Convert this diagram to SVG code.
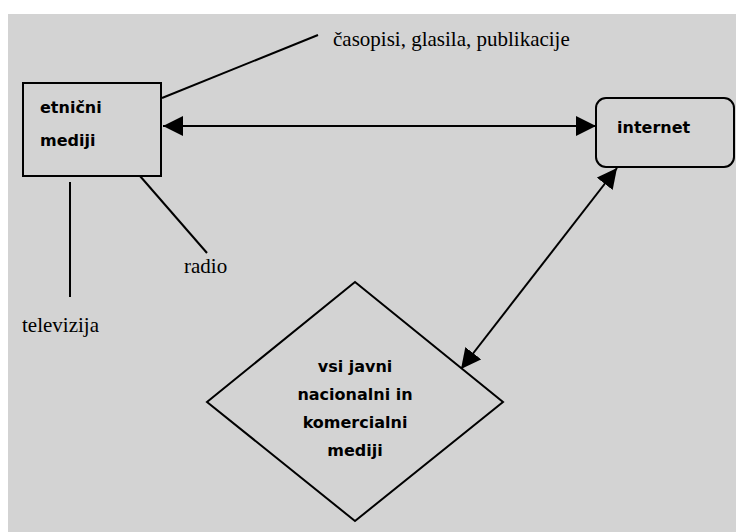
<svg xmlns="http://www.w3.org/2000/svg" width="736" height="532" viewBox="0 0 736 532">
<style>
.node{fill:#d3d3d3;stroke:#000;stroke-width:2}
.lbl{font-family:"DejaVu Sans",sans-serif;font-weight:bold;font-size:16px;fill:#000}
.ser{font-family:"Liberation Serif",serif;font-size:21px;fill:#000}
.ln{stroke:#000;stroke-width:2;fill:none}
</style>
<defs>
<marker id="ah" markerUnits="userSpaceOnUse" markerWidth="22" markerHeight="20" refX="20" refY="10" orient="auto-start-reverse" viewBox="0 0 22 20">
<path d="M0,0 L20,10 L0,20 Z" fill="#000"/>
</marker>
</defs>
<rect x="0" y="0" width="736" height="532" fill="#fff"/>
<rect x="8" y="14" width="728" height="518" fill="#d3d3d3"/>
<g id="connectors">
<line class="ln" x1="162" y1="98" x2="318" y2="35"/>
<line class="ln" x1="70" y1="182" x2="70" y2="297"/>
<line class="ln" x1="140" y1="176" x2="207" y2="253"/>
<line class="ln" x1="163" y1="126" x2="596" y2="126" marker-start="url(#ah)" marker-end="url(#ah)"/>
<line class="ln" x1="617" y1="168" x2="461" y2="369" marker-start="url(#ah)" marker-end="url(#ah)"/>
</g>
<g id="etnicni">
<rect class="node" x="23" y="83" width="138" height="93"/>
<text class="lbl" x="40" y="113">etnični</text>
<text class="lbl" x="40" y="146">mediji</text>
</g>
<g id="internet">
<rect class="node" x="596" y="98" width="138" height="69" rx="10"/>
<text class="lbl" x="617" y="133">internet</text>
</g>
<g id="javni">
<polygon class="node" points="355,282 503,402 355,521 207,402"/>
<text class="lbl" x="355" y="372" text-anchor="middle">vsi javni</text>
<text class="lbl" x="355" y="400" text-anchor="middle">nacionalni in</text>
<text class="lbl" x="355" y="428" text-anchor="middle">komercialni</text>
<text class="lbl" x="355" y="456" text-anchor="middle">mediji</text>
</g>
<g id="labels">
<text class="ser" x="333" y="46">časopisi, glasila, publikacije</text>
<text class="ser" x="184" y="273">radio</text>
<text class="ser" x="22" y="332">televizija</text>
</g>
</svg>
